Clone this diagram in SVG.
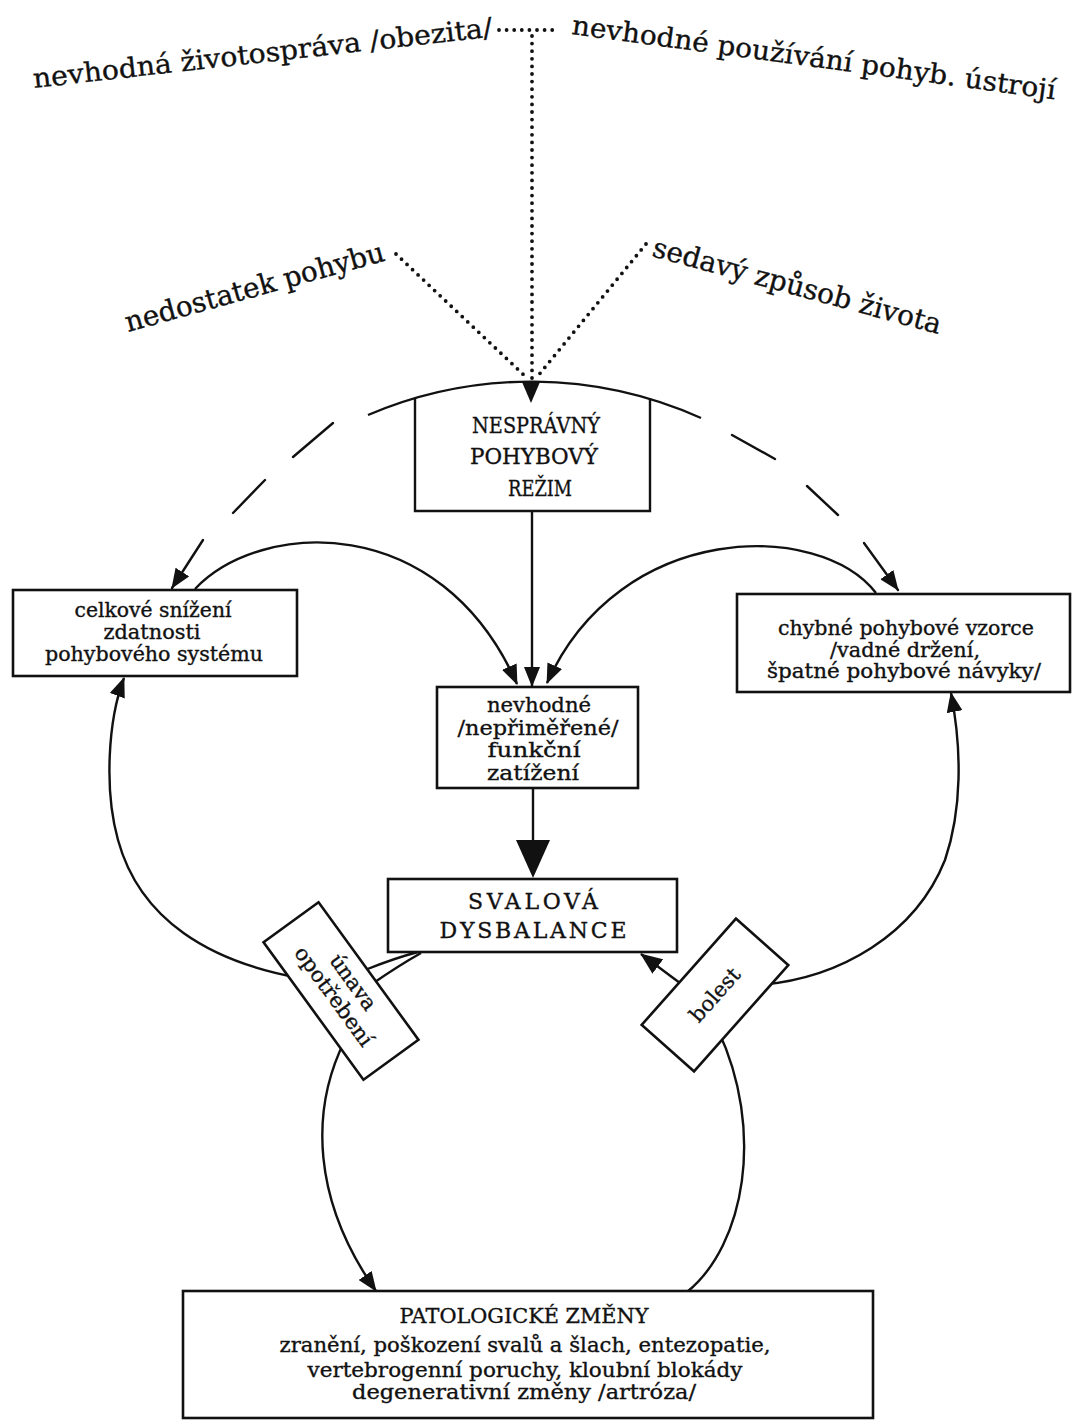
<svg xmlns="http://www.w3.org/2000/svg" width="1073" height="1422" viewBox="0 0 1073 1422">
<style>
.t{font-family:"DejaVu Serif","Liberation Serif",serif;fill:#111;stroke:#111;stroke-width:0.35}
.m{text-anchor:middle}
.box{fill:#fff;stroke:#111;stroke-width:2.6}
.ln{fill:none;stroke:#111;stroke-width:2.4}
.dash{fill:none;stroke:#111;stroke-width:2.4;stroke-linecap:round}
.dot{fill:none;stroke:#111;stroke-width:3.8;stroke-linecap:round;stroke-dasharray:0 7.6}
</style>
<defs>
<marker id="arr" viewBox="0 0 20 16" refX="19" refY="8" markerWidth="20" markerHeight="16" markerUnits="userSpaceOnUse" orient="auto">
<path d="M0,0 L20,8 L0,16 z" fill="#111"/>
</marker>
<marker id="arrT" viewBox="0 0 22 18" refX="21" refY="9" markerWidth="22" markerHeight="18" markerUnits="userSpaceOnUse" orient="auto">
<path d="M0,0 L22,9 L0,18 z" fill="#111"/>
</marker>
</defs>
<rect width="1073" height="1422" fill="#fff"/>

<g id="causes">
<text class="t" font-size="27" transform="translate(34,88) rotate(-6.4)" textLength="462" lengthAdjust="spacingAndGlyphs">nevhodná životospráva /obezita/</text>
<text class="t" font-size="27" transform="translate(571,34) rotate(7.7)" textLength="488" lengthAdjust="spacingAndGlyphs">nevhodné používání pohyb. ústrojí</text>
<text class="t" font-size="28" transform="translate(128,332) rotate(-15.5)" textLength="268" lengthAdjust="spacingAndGlyphs">nedostatek pohybu</text>
<text class="t" font-size="28" transform="translate(651,256) rotate(15.2)" textLength="298" lengthAdjust="spacingAndGlyphs">sedavý způsob života</text>
</g>

<g id="connectors">
<path class="dot" d="M499,30 L558,30"/>
<path class="dot" d="M532,36 L532,382"/>
<path class="dot" d="M396,254 L526,377"/>
<path class="dot" d="M646,244 L537,377"/>
<polygon points="522,382 540,382 531,403" fill="#111"/>

<path class="ln" d="M368,415 A415,415 0 0 1 701,418"/>
<line class="dash" x1="333" y1="423" x2="293" y2="457"/>
<line class="dash" x1="265" y1="480" x2="233" y2="513"/>
<line class="dash" x1="203" y1="540" x2="172" y2="588" marker-end="url(#arr)"/>
<line class="dash" x1="732" y1="435" x2="775" y2="459"/>
<line class="dash" x1="807" y1="486" x2="838" y2="515"/>
<line class="dash" x1="864" y1="543" x2="898" y2="590" marker-end="url(#arr)"/>

<path class="ln" d="M532,511 L532,686" marker-end="url(#arr)"/>
<path class="ln" d="M195,589 C260,520 440,510 517,684" marker-end="url(#arr)"/>
<path class="ln" d="M876,593 C820,520 620,520 547,683" marker-end="url(#arr)"/>

<path class="ln" d="M533,788 L533,842"/>
<polygon points="516,840 550,840 533,878" fill="#111"/>

<path class="ln" d="M300,978 C210,962 140,920 118,840 C104,790 108,720 124,678" marker-end="url(#arr)"/>
<path class="ln" d="M418,952 Q395,958 365,970"/>
<path class="ln" d="M421,953 Q398,966 372,984"/>
<path class="ln" d="M345,1040 C310,1110 312,1200 376,1291" marker-end="url(#arr)"/>

<path class="ln" d="M760,985 C840,978 915,935 945,860 C962,810 962,750 951,693" marker-end="url(#arr)"/>
<path class="ln" d="M687,1292 C745,1245 765,1130 718,1030"/>
<path class="ln" d="M692,992 L641,954" stroke-width="3.8" marker-end="url(#arrT)"/>
</g>

<g id="nespravny">
<path class="ln" d="M415,398 L415,511 L650,511 L650,398" stroke-width="2.6"/>
<text class="t m" font-size="23" x="536" y="433" textLength="128" lengthAdjust="spacingAndGlyphs">NESPRÁVNÝ</text>
<text class="t m" font-size="23" x="534" y="464" textLength="128" lengthAdjust="spacingAndGlyphs">POHYBOVÝ</text>
<text class="t m" font-size="23" x="540" y="496" textLength="64" lengthAdjust="spacingAndGlyphs">REŽIM</text>
</g>

<g id="celkove">
<rect class="box" x="13" y="590" width="284" height="86"/>
<text class="t m" font-size="19.5" x="153" y="617" textLength="157" lengthAdjust="spacingAndGlyphs">celkové snížení</text>
<text class="t m" font-size="19.5" x="152" y="639" textLength="97" lengthAdjust="spacingAndGlyphs">zdatnosti</text>
<text class="t m" font-size="19.5" x="154" y="661" textLength="218" lengthAdjust="spacingAndGlyphs">pohybového systému</text>
</g>

<g id="chybne">
<rect class="box" x="737" y="594" width="333" height="98"/>
<text class="t m" font-size="19.5" x="906" y="635" textLength="256" lengthAdjust="spacingAndGlyphs">chybné pohybové vzorce</text>
<text class="t m" font-size="19.5" x="905" y="657" textLength="150" lengthAdjust="spacingAndGlyphs">/vadné držení,</text>
<text class="t m" font-size="19.5" x="904" y="678" textLength="274" lengthAdjust="spacingAndGlyphs">špatné pohybové návyky/</text>
</g>

<g id="nevhodne">
<rect class="box" x="437" y="687" width="201" height="101"/>
<text class="t m" font-size="21" x="539" y="712" textLength="104" lengthAdjust="spacingAndGlyphs">nevhodné</text>
<text class="t m" font-size="21" x="538" y="735" textLength="161" lengthAdjust="spacingAndGlyphs">/nepřiměřené/</text>
<text class="t m" font-size="21" x="534" y="757" textLength="93" lengthAdjust="spacingAndGlyphs">funkční</text>
<text class="t m" font-size="21" x="533" y="780" textLength="92" lengthAdjust="spacingAndGlyphs">zatížení</text>
</g>

<g id="svalova">
<rect class="box" x="388" y="879" width="289" height="73"/>
<text class="t m" font-size="22" x="533" y="909" textLength="130" lengthAdjust="spacing">SVALOVÁ</text>
<text class="t m" font-size="22" x="533" y="938" textLength="187" lengthAdjust="spacing">DYSBALANCE</text>
</g>

<g id="unava" transform="translate(341,991) rotate(54)">
<rect class="box" x="-85" y="-34" width="170" height="68"/>
<text class="t m" font-size="21" x="0" y="-8">únava</text>
<text class="t m" font-size="21" x="0" y="16" textLength="118" lengthAdjust="spacingAndGlyphs">opotřebení</text>
</g>

<g id="bolest" transform="translate(715,995) rotate(-48.4)">
<rect class="box" x="-71" y="-35" width="142" height="70"/>
<text class="t m" font-size="21" x="0" y="7">bolest</text>
</g>

<g id="patologicke">
<rect class="box" x="183" y="1291" width="690" height="127"/>
<text class="t m" font-size="20" x="524" y="1323" textLength="249" lengthAdjust="spacingAndGlyphs">PATOLOGICKÉ ZMĚNY</text>
<text class="t m" font-size="20" x="525" y="1352" textLength="491" lengthAdjust="spacingAndGlyphs">zranění, poškození svalů a šlach, entezopatie,</text>
<text class="t m" font-size="20" x="525" y="1377" textLength="435" lengthAdjust="spacingAndGlyphs">vertebrogenní poruchy, kloubní blokády</text>
<text class="t m" font-size="20" x="524" y="1399" textLength="344" lengthAdjust="spacingAndGlyphs">degenerativní změny /artróza/</text>
</g>
</svg>
